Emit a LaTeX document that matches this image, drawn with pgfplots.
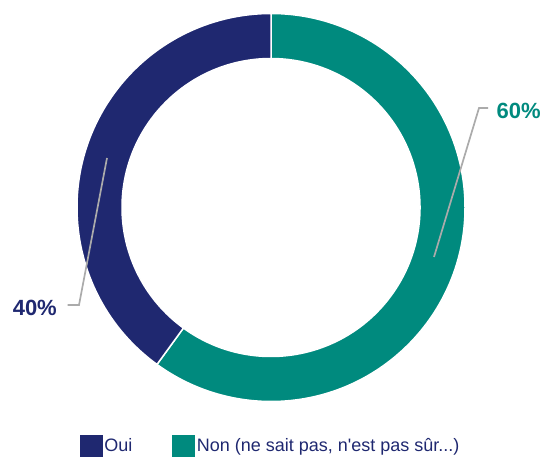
\documentclass[border=0pt]{standalone}
\usepackage{pgfplots}
\pgfplotsset{compat=1.18}
\usepackage{pgfplotstable}
\usepackage{fontspec}
\setmainfont{Liberation Sans}
\newfontfamily\plainfont{Liberation Sans}
\definecolor{navy}{HTML}{1F2870}
\definecolor{tealc}{HTML}{008A7E}
\definecolor{leader}{HTML}{ABABAB}
\pgfplotstableread{
label value
Oui 40
Non 60
}\data
\begin{document}
\begin{tikzpicture}
\pgfplotstablegetelem{0}{value}\of\data \let\vOui\pgfplotsretval
\pgfplotstablegetelem{1}{value}\of\data \let\vNon\pgfplotsretval
\pgfmathsetmacro{\aStart}{90}
\pgfmathsetmacro{\aMid}{90-3.6*\vNon}
\pgfmathsetmacro{\aEnd}{\aMid-3.6*\vOui}
\def\Ro{194bp}\def\Ri{149bp}
\begin{axis}[hide axis, scale only axis, width=542bp, height=457bp,
  xmin=-271, xmax=271, ymin=-249.5, ymax=207.5, clip=false,
  legend columns=2,
  legend cell align=left,
  legend image code/.code={\fill[#1] (0bp,-11bp) rectangle (22bp,11bp);},
  legend style={at={(axis cs:-191,-238.5)}, anchor=west, draw=none, fill=none,
    inner sep=0pt, outer sep=0pt,
    font=\plainfont\fontsize{18bp}{20bp}\selectfont, text=navy,
    /tikz/every even column/.append style={column sep=38bp}},
]
\addlegendimage{navy}
\addlegendentry{Oui}
\addlegendimage{tealc}
\addlegendentry{Non (ne sait pas, n'est pas sûr...)}
\coordinate (C) at (axis cs:0,0);
\coordinate (BL) at (axis cs:-271,-249.5);
\coordinate (TR) at (axis cs:271,207.5);
\fill[tealc, draw=white, line width=1.5bp] ([shift={(C)}]\aStart:\Ro) arc[start angle=\aStart, end angle=\aMid, radius=\Ro] -- ([shift={(C)}]\aMid:\Ri) arc[start angle=\aMid, end angle=\aStart, radius=\Ri] -- cycle;
\fill[navy, draw=white, line width=1.5bp] ([shift={(C)}]\aMid:\Ro) arc[start angle=\aMid, end angle=\aEnd, radius=\Ro] -- ([shift={(C)}]\aEnd:\Ri) arc[start angle=\aEnd, end angle=\aMid, radius=\Ri] -- cycle;
\draw[leader, line width=1.7bp] (axis cs:163,-49.5) -- (axis cs:208,99.5) -- (axis cs:217,99.5);
\node[anchor=west, text=tealc, font=\bfseries\fontsize{22bp}{24bp}\selectfont, inner sep=0pt] at (axis cs:225.5,97) {60\%};
\draw[leader, line width=1.7bp] (axis cs:-164,49.5) -- (axis cs:-192,-97.5) -- (axis cs:-203.5,-97.5);
\node[anchor=east, text=navy, font=\bfseries\fontsize{22bp}{24bp}\selectfont, inner sep=0pt] at (axis cs:-214,-100) {40\%};
\end{axis}
\pgfresetboundingbox
\path[use as bounding box] (BL) rectangle (TR);
\end{tikzpicture}
\end{document}
